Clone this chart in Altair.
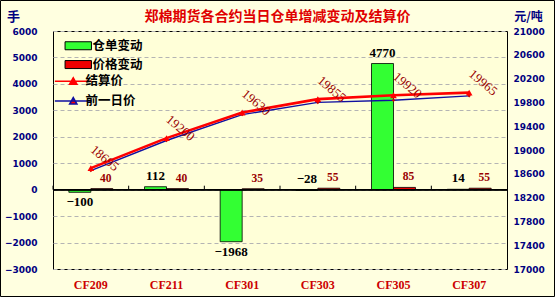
import altair as alt
import pandas as pd

contracts = ["CF209", "CF211", "CF301", "CF303", "CF305", "CF307"]
receipt_change = [-100, 112, -1968, -28, 4770, 14]
price_change = [40, 40, 35, 55, 85, 55]
settle_price = [18695, 19200, 19630, 19855, 19920, 19965]
prev_price = [18655, 19160, 19595, 19800, 19835, 19910]

bar_series = ["仓单变动", "价格变动"]
line_series = ["结算价", "前一日价"]
left_ticks = list(range(-3000, 6001, 1000))
right_ticks = list(range(17000, 21001, 400))

title_text = "郑棉期货各合约当日仓单增减变动及结算价"

bars_df = pd.DataFrame({
    "合约": contracts * 2,
    "系列": [bar_series[0]] * len(contracts) + [bar_series[1]] * len(contracts),
    "值": receipt_change + price_change,
})
lines_df = pd.DataFrame({
    "合约": contracts * 2,
    "系列": [line_series[1]] * len(contracts) + [line_series[0]] * len(contracts),
    "价格": prev_price + settle_price,
})

NAVY = "#000080"
CJK = "Noto Sans CJK SC"

x_axis = alt.Axis(title=None, domain=False, ticks=False, labelAngle=0,
                  labelFont="Liberation Serif", labelFontWeight="bold",
                  labelFontSize=12, labelColor="#CC0000", labelPadding=10)
x_scale = alt.Scale(paddingInner=0, paddingOuter=0)
x_enc = alt.X("合约:N", sort=contracts, scale=x_scale, axis=x_axis)
x_off = alt.XOffset("系列:N", sort=bar_series,
                    scale=alt.Scale(domain=bar_series, paddingInner=0, paddingOuter=0.72))

left_axis = alt.Axis(values=left_ticks, title="手", titleAngle=0, titleX=-40, titleY=-15,
                     titleAlign="center", titleBaseline="middle", titleFont=CJK,
                     titleFontSize=13, titleFontWeight="bold", titleColor=NAVY,
                     grid=True, gridDash=[4, 3], gridColor="#B4B4B4", domain=False, ticks=False,
                     labelColor=NAVY, labelFont="DejaVu Sans", labelFontWeight="bold",
                     labelFontSize=9, labelPadding=16, format="d")
left_scale = alt.Scale(domain=[-3000, 6000], nice=False)
y_left = alt.Y("值:Q", scale=left_scale, axis=left_axis)

bar_legend = alt.Legend(
    orient="none", legendX=11, legendY=8.5, title=None,
    symbolType="M-3.3,-1H3.3V1H-3.3Z", symbolSize=64, symbolOffset=8, labelOffset=8,
    symbolStrokeColor="#000000", symbolStrokeWidth=1, rowPadding=5.8,
    labelFont=CJK, labelFontWeight="bold", labelFontSize=12.5, labelColor="#000000",
)
line_legend = alt.Legend(
    orient="none", legendX=4, legendY=44, title=None,
    symbolType="M-4.6,0H4.6M-0.9,0.75L0,-0.85L0.9,0.75Z", symbolSize=64,
    symbolOffset=10, labelOffset=6, symbolStrokeWidth=1.6, symbolFillColor="#FF0000",
    rowPadding=5.8,
    labelFont=CJK, labelFontWeight="bold", labelFontSize=12.5, labelColor="#000000",
)

bars = alt.Chart(bars_df).mark_bar(stroke="#000000", strokeWidth=0.8).encode(
    x=x_enc, xOffset=x_off, y=y_left,
    color=alt.Color("系列:N", scale=alt.Scale(domain=bar_series, range=["#33FF33", "#EE0000"]),
                    legend=bar_legend),
)

lab_font = dict(font="Liberation Serif", fontWeight="bold")
recv_up = alt.Chart(bars_df).transform_filter(
    f"datum['系列'] == '{bar_series[0]}' && datum['值'] > -50"
).mark_text(baseline="bottom", dy=-4, fontSize=13, color="#000000", **lab_font).encode(
    x=x_enc, xOffset=x_off, y=y_left, text=alt.Text("值:Q", format="d"))
recv_down = alt.Chart(bars_df).transform_filter(
    f"datum['系列'] == '{bar_series[0]}' && datum['值'] <= -50"
).mark_text(baseline="top", dy=4, fontSize=13, color="#000000", **lab_font).encode(
    x=x_enc, xOffset=x_off, y=y_left, text=alt.Text("值:Q", format="d"))
chg_lab = alt.Chart(bars_df).transform_filter(
    f"datum['系列'] == '{bar_series[1]}'"
).mark_text(baseline="bottom", dy=-5, dx=4, fontSize=11.5, color="#990000", **lab_font).encode(
    x=x_enc, xOffset=x_off, y=y_left, text=alt.Text("值:Q", format="d"))

zero_rule = alt.Chart(bars_df).mark_rule(color="#000000", strokeWidth=1).encode(
    y=alt.Y("zero:Q", scale=left_scale, axis=left_axis)
).transform_calculate(zero="0")

# short tick marks on the zero line at the category boundaries
bound_ticks = alt.Chart(bars_df).transform_filter(
    f"datum['系列'] == '{bar_series[0]}'"
).transform_calculate(zero="0", tip="150").mark_rule(color="#000000", strokeWidth=1).encode(
    x=alt.X("合约:N", sort=contracts, scale=x_scale, axis=x_axis, bandPosition=0),
    y=alt.Y("zero:Q", scale=left_scale, axis=left_axis),
    y2="tip:Q",
)

# thin black frame around the whole picture
frame = alt.Chart(alt.Data(values=[{"k": 1}])).mark_rect(
    filled=False, stroke="#000000", strokeWidth=1).encode(
    x=alt.value(-52.5), x2=alt.value(501.5), y=alt.value(-30.5), y2=alt.value(265.5))

left = alt.layer(bars, zero_rule, bound_ticks, recv_up, recv_down, chg_lab)

y_right = alt.Y(
    "价格:Q", scale=alt.Scale(domain=[17000, 21000], nice=False),
    axis=alt.Axis(orient="right", values=right_ticks, title="元/吨", titleAngle=0,
                  titleX=21, titleY=-15, titleAlign="center", titleBaseline="middle",
                  titleFont=CJK, titleFontSize=12, titleFontWeight="bold", titleColor=NAVY,
                  grid=False, domain=False, ticks=False,
                  labelColor=NAVY, labelFont="DejaVu Sans", labelFontWeight="bold",
                  labelFontSize=9, labelPadding=6, format="d"),
)
stroke_enc = alt.Stroke("系列:N", scale=alt.Scale(domain=line_series, range=["#FF0000", "#1010A0"]),
                        legend=line_legend)

prev_line = alt.Chart(lines_df).transform_filter(
    f"datum['系列'] == '{line_series[1]}'"
).mark_line(strokeWidth=1.4).encode(x=x_enc, y=y_right, stroke=stroke_enc)
settle_line = alt.Chart(lines_df).transform_filter(
    f"datum['系列'] == '{line_series[0]}'"
).mark_line(strokeWidth=2.6).encode(x=x_enc, y=y_right, stroke=stroke_enc)
prev_pts = alt.Chart(lines_df).transform_filter(
    f"datum['系列'] == '{line_series[1]}'"
).mark_point(shape="diamond", filled=True, size=12, color="#CC0000", opacity=1).encode(
    x=x_enc, y=y_right)
settle_pts = alt.Chart(lines_df).transform_filter(
    f"datum['系列'] == '{line_series[0]}'"
).mark_point(shape="triangle-up", filled=True, size=45, color="#FF0000", opacity=1).encode(
    x=x_enc, y=y_right)
price_lab = alt.Chart(lines_df).transform_filter(
    f"datum['系列'] == '{line_series[0]}'"
).mark_text(angle=40, radius=17, theta=0.95, align="center", baseline="middle",
            font="Liberation Serif", fontSize=13, color="#990000").encode(
    x=x_enc, y=y_right, text=alt.Text("价格:Q", format="d"))

right = alt.layer(prev_line, settle_line, prev_pts, settle_pts, price_lab, frame)

chart = alt.layer(left, right).resolve_scale(y="independent").properties(
    width=454, height=238,
    padding={"left": 53, "top": 31, "right": 48, "bottom": 28},
    autosize="none",
    background="#FFFFE0",
    title=alt.TitleParams(title_text, font=CJK, fontSize=14, fontWeight="bold",
                          color="#E00000", anchor="middle", offset=9, dx=-2.5, dy=33),
).configure_view(fill="#FFFFD8", stroke="#000000", strokeWidth=1)

chart.save("out.html", embed_options={"renderer": "svg", "actions": False})
